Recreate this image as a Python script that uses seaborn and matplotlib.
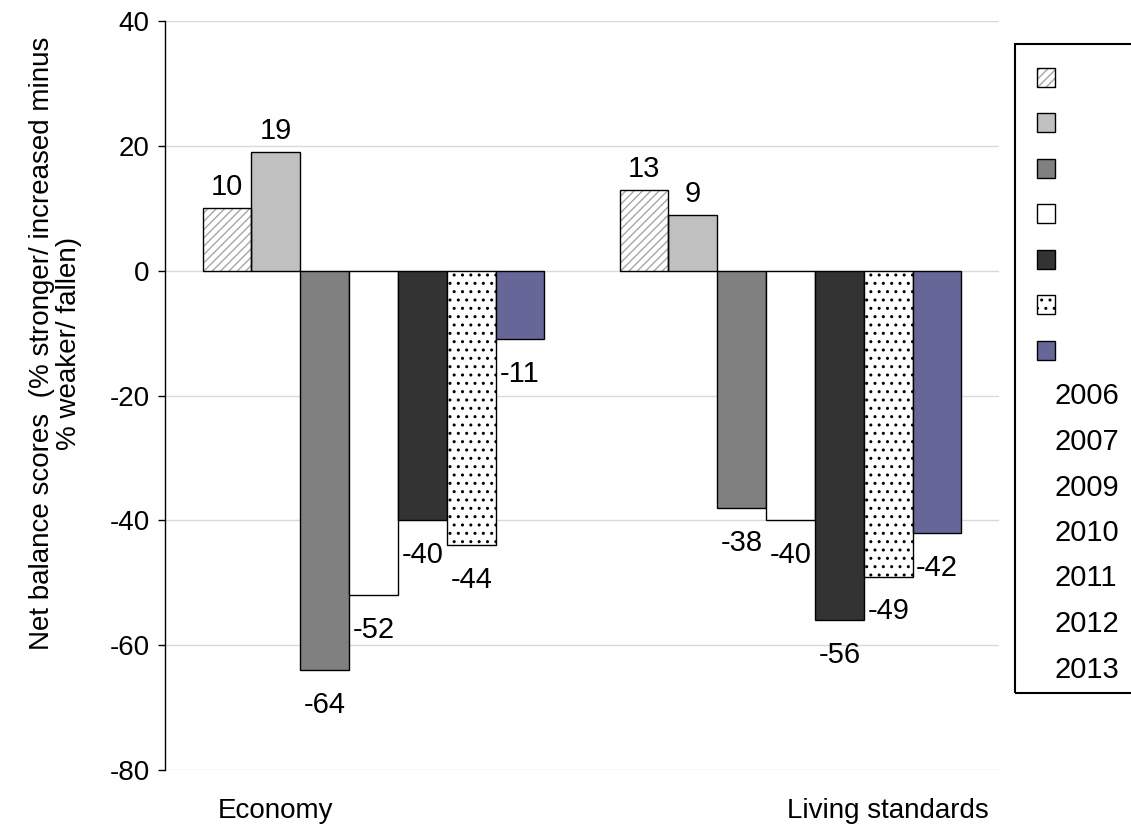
import pandas as pd
import numpy as np
import matplotlib
matplotlib.use("Agg")
import matplotlib.pyplot as plt
import matplotlib.transforms as mtransforms
from matplotlib.patches import Patch, Rectangle
from matplotlib.legend_handler import HandlerTuple
import seaborn as sns

# Data
categories = ["Economy", "Living standards"]
years = ["2006", "2007", "2009", "2010", "2011", "2012", "2013"]
economy = [10, 19, -64, -52, -40, -44, -11]
living = [13, 9, -38, -40, -56, -49, -42]

# Styling per year
fills = ["white", "#c0c0c0", "#808080", "white", "#333333", "white", "#666699"]
hatches = ["////", None, None, None, None, "..", None]
hatch_col = "#a6a6a6"

sns.set_theme(style="whitegrid")
plt.rcParams['font.family'] = ['Liberation Sans', 'DejaVu Sans']
plt.rcParams['axes.unicode_minus'] = False
plt.rcParams['hatch.linewidth'] = 1.0
plt.rcParams['text.color'] = 'black'
plt.rcParams['axes.labelcolor'] = 'black'
plt.rcParams['xtick.color'] = 'black'
plt.rcParams['ytick.color'] = 'black'

rows = []
for cat, vals in zip(categories, [economy, living]):
    for yr, v in zip(years, vals):
        rows.append({"category": cat, "year": yr, "value": v})
df = pd.DataFrame(rows)

fig, ax = plt.subplots(figsize=(11.31, 8.27), dpi=100)
fig.subplots_adjust(left=0.1459, right=0.8833, bottom=0.0689, top=0.9746)

sns.barplot(data=df, x="category", y="value", hue="year", hue_order=years,
            palette=dict(zip(years, fills)), edgecolor="black", linewidth=1,
            width=0.82, saturation=1, errorbar=None, legend=False, ax=ax)

# hatches (2006 gets grey hatch with a black outline on top)
for i, cont in enumerate(ax.containers):
    for bar in cont:
        if hatches[i] is None:
            continue
        bar.set_hatch(hatches[i])
        if i == 0:
            bar.set_edgecolor(hatch_col)
            bar.set_linewidth(0)
            ax.add_patch(Rectangle(bar.get_xy(), bar.get_width(), bar.get_height(),
                                   fill=False, edgecolor="black", linewidth=1, zorder=bar.get_zorder() + 0.1))

# value labels
for cont in ax.containers:
    for bar in cont:
        h = bar.get_height()
        x = bar.get_x() + bar.get_width() / 2
        off = 15 if h >= 0 else -25
        ax.annotate(f"{h:.0f}", (x, h), xytext=(0, off), textcoords="offset points",
                    ha="center", va="center", fontsize=21, color="black")

ax.set_ylim(-80, 40)
ax.set_yticks(np.arange(-80, 41, 20))
ax.grid(axis="y", color="#d9d9d9", linewidth=1)
ax.grid(axis="x", visible=False)
ax.set_axisbelow(True)
for s in ["top", "right", "bottom"]:
    ax.spines[s].set_visible(False)
ax.spines["left"].set_color("black")
ax.spines["left"].set_linewidth(1)
ax.tick_params(axis="y", left=True, length=5, width=1, color="black", labelsize=20, pad=6)
ax.tick_params(axis="x", bottom=False, labelsize=20, pad=14)
ax.set_xlabel("")

# category labels sit off-centre in the original
for lab, dx in zip(ax.get_xticklabels(), [-98, 97]):
    lab.set_transform(lab.get_transform() + mtransforms.ScaledTranslation(dx / 100, 0, fig.dpi_scale_trans))

ax.set_ylabel("Net balance scores  (% stronger/ increased minus\n% weaker/ fallen)",
              fontsize=20, family=['Liberation Sans Narrow', 'Liberation Sans'], linespacing=1.05)
ax.yaxis.set_label_coords(-0.10, 0.57)

# legend: swatches on top, year labels underneath, in one frame
handles = []
for f, h in zip(fills, hatches):
    if h is not None and f == "white" and h.startswith("/"):
        handles.append((Patch(facecolor="white", edgecolor=hatch_col, hatch=h, linewidth=0),
                        Patch(fill=False, edgecolor="black", linewidth=1)))
    else:
        handles.append(Patch(facecolor=f, edgecolor="black", hatch=h, linewidth=1))

leg1 = fig.legend(handles, [""] * len(years), loc="center left",
                  bbox_to_anchor=(1037 / 1131, 1 - 216 / 827), frameon=False, fontsize=21,
                  handlelength=0.62, handleheight=0.62, labelspacing=0.6, borderpad=0,
                  borderaxespad=0, handletextpad=0, handler_map={tuple: HandlerTuple(ndivide=1)})
leg2 = fig.legend([Patch(visible=False)] * len(years), years, loc="center left",
                  bbox_to_anchor=(1055 / 1131, 1 - 533 / 827), frameon=False, fontsize=21,
                  handlelength=0, handletextpad=0, labelspacing=0.6, borderpad=0, borderaxespad=0)
fig.add_artist(Rectangle((1015 / 1131, 1 - 693 / 827), 0.2, (693 - 44) / 827,
                         transform=fig.transFigure, fill=False, edgecolor="black", linewidth=1.5))

fig.savefig("out.png", dpi=100)
